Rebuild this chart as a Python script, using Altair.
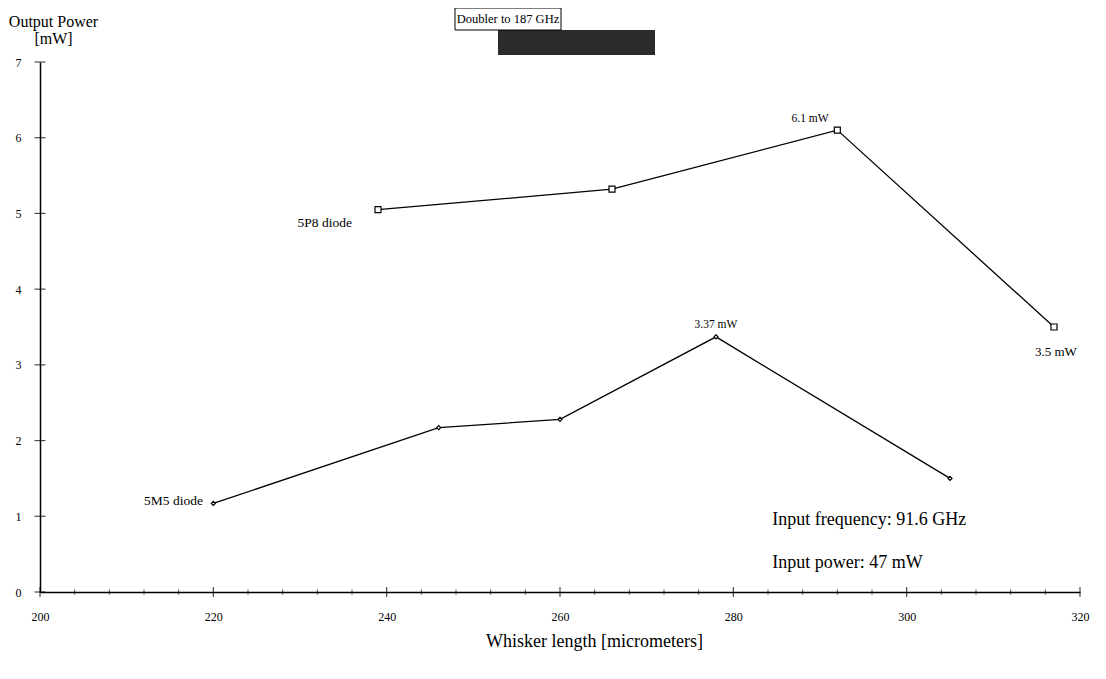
import altair as alt
import pandas as pd

# ---- data ----
p8_x = [239, 266, 292, 317]
p8_y = [5.05, 5.32, 6.1, 3.5]
m5_x = [220, 246, 260, 278, 305]
m5_y = [1.17, 2.17, 2.28, 3.37, 1.5]

x_ticks = [200, 220, 240, 260, 280, 300, 320]
x_minor = [v for v in range(200, 321, 4) if v % 20 != 0]
y_ticks = [0, 1, 2, 3, 4, 5, 6, 7]

ann_text = ["5P8 diode", "5M5 diode", "6.1 mW", "3.37 mW", "3.5 mW",
            "Input frequency: 91.6 GHz", "Input power: 47 mW"]
ann_x = [236, 218.8, 291, 278, 314.8, 284.5, 284.5]
ann_y = [4.88, 1.2, 6.25, 3.53, 3.17, 0.95, 0.38]
ann_align = ["right", "right", "right", "center", "left", "left", "left"]
ann_size = [13.5, 13.5, 11.5, 11.5, 13, 18, 18]

FONT = "Liberation Serif"

p8 = pd.DataFrame({"x": p8_x, "y": p8_y, "s": "5P8"})
m5 = pd.DataFrame({"x": m5_x, "y": m5_y, "s": "5M5"})
lines_df = pd.concat([p8, m5])

xs = alt.Scale(domain=[200, 320], nice=False, zero=False)
ys = alt.Scale(domain=[0, 7], nice=False)

xax = alt.Axis(values=x_ticks, ticks=False, grid=False, labelFont=FONT, labelFontSize=12,
               labelColor="black", labelPadding=19, labelFlush=False, format="d",
               domainColor="black", domainWidth=1.5,
               title="Whisker length [micrometers]", titleFont=FONT, titleFontSize=18,
               titleFontWeight="normal", titleColor="black", titleX=554, titleY=54,
               titleBaseline="alphabetic", titleAlign="center")
yax = alt.Axis(values=y_ticks, ticks=False, grid=False, labelFont=FONT, labelFontSize=12,
               labelColor="black", labelPadding=19, format="d",
               domainColor="black", domainWidth=1.5,
               title=["Output Power", "[mW]"], titleFont=FONT, titleFontSize=16,
               titleFontWeight="normal", titleColor="black", titleAngle=0,
               titleX=13, titleY=-36, titleBaseline="alphabetic", titleAlign="center",
               titleLineHeight=17)

base = alt.Chart(lines_df)

lines = base.mark_line(color="black", strokeWidth=1.3).encode(
    x=alt.X("x:Q", scale=xs, axis=xax),
    y=alt.Y("y:Q", scale=ys, axis=yax),
    detail="s:N",
)

pts_p8 = alt.Chart(p8).mark_point(shape="square", filled=True, fill="white",
                                   stroke="black", strokeWidth=1.2, size=36, opacity=1).encode(
    x=alt.X("x:Q", scale=xs), y=alt.Y("y:Q", scale=ys))
pts_m5 = alt.Chart(m5).mark_point(shape="diamond", filled=True, fill="white",
                                   stroke="black", strokeWidth=1.2, size=16, opacity=1).encode(
    x=alt.X("x:Q", scale=xs), y=alt.Y("y:Q", scale=ys))

xt_df = pd.DataFrame({"x": x_ticks, "y": [0] * len(x_ticks)})
xm_df = pd.DataFrame({"x": x_minor, "y": [0] * len(x_minor)})
yt_df = pd.DataFrame({"x": [200] * len(y_ticks), "y": y_ticks})

xt = alt.Chart(xt_df).mark_tick(orient="vertical", color="black", thickness=1.2, size=10).encode(
    x=alt.X("x:Q", scale=xs), y=alt.Y("y:Q", scale=ys))
xm = alt.Chart(xm_df).mark_tick(orient="vertical", color="black", thickness=1, size=5).encode(
    x=alt.X("x:Q", scale=xs), y=alt.Y("y:Q", scale=ys))
yt = alt.Chart(yt_df).mark_tick(orient="horizontal", color="black", thickness=1.2, size=11).encode(
    x=alt.X("x:Q", scale=xs), y=alt.Y("y:Q", scale=ys))

ann_df = pd.DataFrame({"t": ann_text, "x": ann_x, "y": ann_y, "a": ann_align, "fs": ann_size})
anns = []
for al in ["left", "center", "right"]:
    for fs in sorted(set(ann_size)):
        sub = ann_df[(ann_df.a == al) & (ann_df.fs == fs)]
        if len(sub) == 0:
            continue
        anns.append(alt.Chart(sub).mark_text(align=al, baseline="middle", font=FONT,
                                             fontSize=fs, color="black").encode(
            x=alt.X("x:Q", scale=xs), y=alt.Y("y:Q", scale=ys), text="t:N"))

one = pd.DataFrame({"k": [0]})
shadow = alt.Chart(one).mark_rect(color="#2b2b2b").encode(
    x=alt.value(458), x2=alt.value(615), y=alt.value(-32), y2=alt.value(-7))
box = alt.Chart(one).mark_rect(fill="white", stroke="black", strokeWidth=1).encode(
    x=alt.value(415), x2=alt.value(521), y=alt.value(-54), y2=alt.value(-32))
ttl = alt.Chart(one).mark_text(font=FONT, fontSize=12.5, color="black", align="center",
                               baseline="middle").encode(
    x=alt.value(468), y=alt.value(-43), text=alt.value("Doubler to 187 GHz"))

chart = alt.layer(lines, xm, xt, yt, pts_p8, pts_m5, *anns, shadow, box, ttl).properties(
    width=1040, height=530,
    autosize=alt.AutoSizeParams(type="none"),
    padding={"left": 32, "top": 54, "right": 18, "bottom": 76},
    background="white",
).configure_view(strokeWidth=0)

chart.save("out.html", embed_options={"renderer": "svg", "actions": False})
